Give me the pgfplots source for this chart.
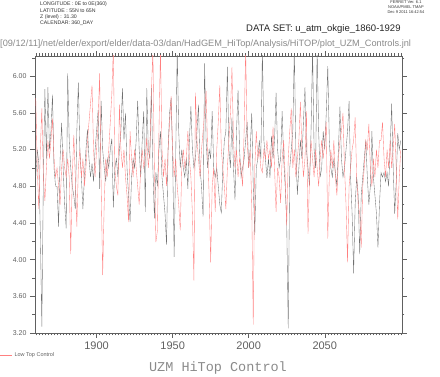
\documentclass[border=0pt]{standalone}
\usepackage{fontspec}
\setmainfont{Liberation Sans}
\newfontfamily\monofont{Liberation Mono}
\usepackage{pgfplots}
\pgfplotsset{compat=1.18}
\usepackage{pgfplotstable}
\definecolor{txtgray}{HTML}{8A8A8A}
\definecolor{tickgray}{HTML}{606060}
\definecolor{lowred}{HTML}{FF8080}
\definecolor{hiblack}{HTML}{707070}
\pgfplotstableread{
year b r
1860 4.90 5.76
1861 5.20 5.00
1862 5.05 4.55
1863 4.30 5.20
1864 3.27 5.65
1865 4.90 4.90
1866 5.86 4.64
1867 5.10 5.00
1868 5.88 5.30
1869 5.20 5.10
1870 5.40 5.30
1871 5.80 5.54
1872 5.00 5.10
1873 4.80 4.90
1874 4.80 5.00
1875 4.36 4.80
1876 5.10 4.60
1877 5.49 5.00
1878 5.00 5.20
1879 4.60 5.00
1880 4.34 4.90
1881 6.03 5.10
1882 5.30 4.90
1883 5.00 4.06
1884 4.80 4.90
1885 4.70 5.36
1886 4.55 4.90
1887 5.40 4.36
1888 5.93 5.00
1889 5.20 5.20
1890 4.90 4.90
1891 4.55 5.10
1892 4.90 4.80
1893 5.20 5.00
1894 5.42 5.30
1895 5.10 5.50
1896 4.90 5.70
1897 5.05 5.90
1898 4.85 5.20
1899 5.20 4.90
1900 5.40 5.20
1901 5.63 5.50
1902 4.77 6.03
1903 5.73 4.80
1904 5.20 3.83
1905 5.00 4.60
1906 4.85 5.10
1907 5.10 4.90
1908 5.00 5.20
1909 5.20 5.50
1910 5.32 5.80
1911 4.57 6.30
1912 5.00 5.00
1913 5.10 4.80
1914 4.90 4.70
1915 5.20 5.69
1916 5.40 5.20
1917 5.87 5.00
1918 5.30 5.20
1919 5.60 4.90
1920 5.00 4.70
1921 4.70 4.41
1922 4.41 5.40
1923 4.90 5.10
1924 5.10 4.90
1925 5.00 5.20
1926 5.30 5.00
1927 5.73 4.80
1928 5.20 4.60
1929 4.90 5.00
1930 5.30 5.20
1931 5.62 5.00
1932 4.52 5.10
1933 5.87 5.33
1934 5.20 5.00
1935 5.10 5.20
1936 5.87 5.80
1937 5.00 6.30
1938 4.45 5.00
1939 4.95 4.19
1940 4.80 4.32
1941 5.20 5.40
1942 5.40 6.30
1943 4.90 5.20
1944 4.70 4.90
1945 4.50 5.10
1946 4.16 4.80
1947 5.20 5.20
1948 5.60 5.50
1949 5.76 5.78
1950 5.10 5.20
1951 4.03 4.90
1952 5.10 5.10
1953 6.30 4.80
1954 5.40 4.60
1955 5.00 4.32
1956 5.20 5.00
1957 5.00 5.20
1958 4.90 5.00
1959 5.10 5.10
1960 4.77 5.40
1961 5.30 5.10
1962 5.67 4.90
1963 5.20 4.50
1964 5.00 3.77
1965 5.10 5.82
1966 5.40 5.30
1967 5.69 5.10
1968 5.00 4.90
1969 4.80 5.20
1970 4.47 5.40
1971 6.14 5.60
1972 5.30 5.84
1973 5.00 5.20
1974 5.20 4.70
1975 5.10 3.97
1976 5.62 4.80
1977 5.00 5.00
1978 4.90 4.52
1979 5.00 5.20
1980 4.80 5.50
1981 4.60 5.90
1982 4.51 5.20
1983 5.00 5.00
1984 5.30 4.80
1985 5.40 4.55
1986 6.10 5.00
1987 5.20 5.30
1988 5.00 5.60
1989 5.55 6.10
1990 5.00 5.30
1991 4.65 5.00
1992 5.40 5.20
1993 5.85 4.90
1994 5.20 5.10
1995 4.90 5.00
1996 5.00 4.80
1997 5.10 5.40
1998 5.30 6.30
1999 5.50 5.30
2000 5.00 5.00
2001 5.20 5.20
2002 5.60 4.60
2003 4.80 3.29
2004 4.27 5.00
2005 5.00 5.40
2006 5.10 5.10
2007 5.30 5.20
2008 5.10 5.00
2009 6.30 4.95
2010 5.30 5.20
2011 5.10 5.10
2012 4.89 5.30
2013 5.10 5.10
2014 4.89 5.20
2015 5.35 5.00
2016 5.10 5.45
2017 5.30 5.00
2018 5.82 4.52
2019 5.20 5.00
2020 5.00 4.90
2021 5.10 4.62
2022 5.62 5.10
2023 5.10 5.30
2024 4.80 4.90
2025 4.40 4.37
2026 3.25 5.10
2027 5.00 5.40
2028 5.20 5.65
2029 5.40 5.00
2030 6.30 5.20
2031 5.20 4.90
2032 4.71 5.10
2033 5.00 5.30
2034 5.30 5.72
2035 5.10 5.20
2036 5.50 4.90
2037 5.88 5.10
2038 5.20 5.62
2039 5.00 4.28
2040 4.80 4.90
2041 5.40 5.30
2042 6.30 5.10
2043 5.20 4.90
2044 5.00 5.20
2045 6.30 5.00
2046 5.40 4.80
2047 4.90 5.10
2048 5.00 5.30
2049 5.40 5.10
2050 5.20 5.30
2051 5.60 5.50
2052 6.11 4.23
2053 5.30 4.90
2054 5.00 5.20
2055 4.90 5.00
2056 5.10 5.30
2057 4.95 4.90
2058 4.80 4.70
2059 5.20 5.10
2060 5.67 5.30
2061 5.10 5.40
2062 4.90 5.60
2063 5.00 5.00
2064 5.20 4.60
2065 5.40 3.97
2066 5.73 4.80
2067 4.90 5.00
2068 4.50 5.20
2069 3.85 5.30
2070 4.60 5.55
2071 4.90 4.90
2072 4.70 4.60
2073 4.06 4.50
2074 4.70 4.13
2075 4.90 4.80
2076 5.10 5.00
2077 5.30 5.30
2078 4.90 5.20
2079 4.60 5.48
2080 4.80 5.00
2081 5.40 4.80
2082 4.90 5.10
2083 4.70 4.90
2084 4.50 5.20
2085 4.13 5.00
2086 4.60 5.30
2087 4.95 5.30
2088 4.90 5.50
2089 4.95 5.10
2090 4.85 4.90
2091 4.95 5.20
2092 4.80 5.00
2093 5.20 5.30
2094 5.70 5.00
2095 5.00 5.20
2096 4.50 5.48
2097 4.85 5.00
2098 5.38 4.44
2099 5.20 4.90
2100 5.30 5.20
}\uzmdata
\begin{document}
\begin{tikzpicture}[x=1pt,y=1pt]
\useasboundingbox (0,0) rectangle (440,377);
\begin{axis}[
  at={(35pt,44pt)}, anchor=south west,
  width=367pt, height=277pt, scale only axis,
  xmin=1859.5, xmax=2100.8, ymin=3.2, ymax=6.22,
  axis line style={tickgray, line width=0.5pt},
  tick style={tickgray, line width=0.4pt},
  tick align=outside, tick pos=both,
  xtick={1900,1950,2000,2050},
  minor xtick={1860,1862,...,2100},
  ytick={3.2,3.6,...,6.01},
  minor ytick={3.4,3.8,...,6.1},
  major tick length=5pt, minor tick length=2.5pt,
  xticklabel style={font=\fontsize{11}{12}\selectfont, text=tickgray, /pgf/number format/1000 sep={}},
  yticklabel style={font=\fontsize{7}{8}\selectfont, text=tickgray, /pgf/number format/fixed, /pgf/number format/fixed zerofill, /pgf/number format/precision=2},
  /pgf/number format/assume math mode=true,
  xticklabel pos=lower, yticklabel pos=left,
  clip=true,
  legend style={at={(axis description cs:-0.0954,-0.079)}, anchor=west, draw=none, fill=none,
    font=\fontsize{5.5}{6}\selectfont, text=tickgray, inner sep=0pt},
  legend image code/.code={\draw[#1] (0pt,0pt) -- (12pt,0pt);},
]
\addplot[hiblack, line width=0.35pt, forget plot] table[x=year, y=b] {\uzmdata};
\addplot[lowred, line width=0.35pt] table[x=year, y=r] {\uzmdata};
\addlegendentry{Low Top Control}
\end{axis}
\node[anchor=north west, font=\fontsize{5.2}{6.3}\selectfont, align=left, inner sep=0pt, text=black!80] at (40,375)
  {LONGITUDE : 0E to 0E(360)\\LATITUDE : 55N to 65N\\Z (level) : 31.30\\CALENDAR: 360\_DAY};
\node[anchor=north, font=\fontsize{4}{4.8}\selectfont, align=center, inner sep=0pt, text=black!80] at (406,376)
  {FERRET Ver. 6.1\\NOAA/PMEL TMAP\\Dec  9 2011 16:42:54};
\node[anchor=west, font=\fontsize{9.5}{10}\selectfont, inner sep=0pt, text=black!85] at (246,348) {DATA SET: u\_atm\_okgie\_1860-1929};
\node[anchor=west, font=\fontsize{9.2}{10}\selectfont, inner sep=0pt, text=txtgray] at (0,333) {[09/12/11]/net/elder/export/elder/data-03/dan/HadGEM\_HiTop/Analysis/HiTOP/plot\_UZM\_Controls.jnl};
\node[font=\monofont\fontsize{13.5}{14}\selectfont, inner sep=0pt, text=txtgray] at (218,9) {UZM HiTop Control};
\end{tikzpicture}
\end{document}
